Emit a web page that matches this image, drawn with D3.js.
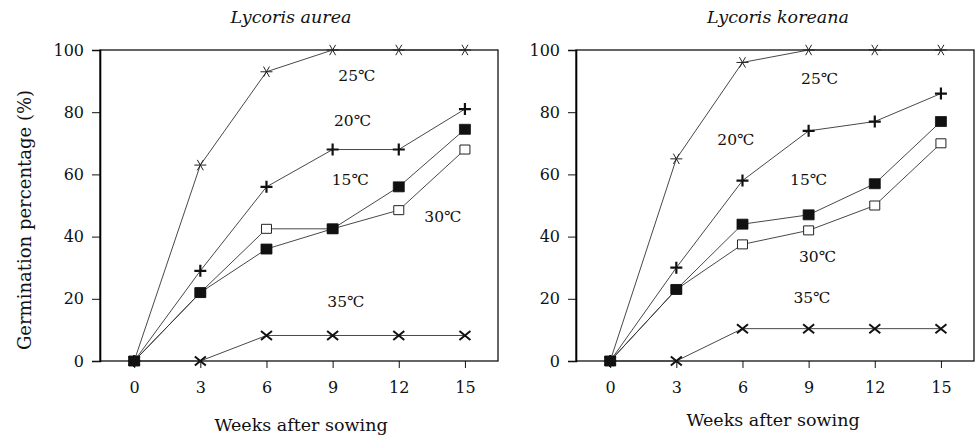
<!DOCTYPE html>
<html>
<head>
<meta charset="utf-8">
<script src="https://cdn.jsdelivr.net/npm/d3@7"></script>
<style>
  body { margin: 0; background: #fff; }
  svg { display: block; }
  text { font-family: "DejaVu Serif", "Liberation Serif", serif; fill: #111; }
</style>
</head>
<body>
<svg id="chart" width="976" height="437"></svg>
<script>
// weeks after sowing and axis ticks
const weeks = [0, 3, 6, 9, 12, 15];
const yTicks = [0, 20, 40, 60, 80, 100];
const tempLabels = ["25℃", "20℃", "15℃", "30℃", "35℃"];
const markerTypes = ["asterisk", "plus", "filledSquare", "openSquare", "times"];
// markers drawn in this order so the filled squares end up on top
const drawOrder = [4, 3, 0, 1, 2];

// Lycoris aurea, germination %
const aurea25 = [0, 63, 93, 100, 100, 100];
const aurea20 = [0, 29, 56, 68, 68, 81];
const aurea15 = [0, 22, 36, 42.5, 56, 74.5];
const aurea30 = [0, 22, 42.5, 42.5, 48.5, 68];
const aurea35 = [0, 0, 8.2, 8.2, 8.2, 8.2];
// where the temperature notes sit, in week / percent units
const aureaNoteWeek = [10.1, 9.9, 9.8, 14.0, 9.6];
const aureaNotePct = [91.6, 77.2, 58.2, 46.3, 19.0];

// Lycoris koreana, germination %
const koreana25 = [0, 65, 96, 100, 100, 100];
const koreana20 = [0, 30, 58, 74, 77, 86];
const koreana15 = [0, 23, 44, 47, 57, 77];
const koreana30 = [0, 23, 37.5, 42, 50, 70];
const koreana35 = [0, 0, 10.4, 10.4, 10.4, 10.4];
const koreanaNoteWeek = [9.5, 5.7, 9.0, 9.4, 9.15];
const koreanaNotePct = [90.7, 71.1, 58.2, 33.4, 20.3];

const svg = d3.select("#chart");

function markerPath(type) {
  const p = d3.path();
  if (type === "asterisk") {
    const r = 6, a = Math.PI / 3;
    p.moveTo(-r, 0); p.lineTo(r, 0);
    p.moveTo(-r * Math.cos(a), -r * Math.sin(a)); p.lineTo(r * Math.cos(a), r * Math.sin(a));
    p.moveTo(-r * Math.cos(a), r * Math.sin(a)); p.lineTo(r * Math.cos(a), -r * Math.sin(a));
  } else if (type === "plus") {
    p.moveTo(-6, 0); p.lineTo(6, 0); p.moveTo(0, -6); p.lineTo(0, 6);
  } else if (type === "times") {
    p.moveTo(-5.5, -4.5); p.lineTo(5.5, 4.5); p.moveTo(-5.5, 4.5); p.lineTo(5.5, -4.5);
  } else if (type === "filledSquare") {
    p.rect(-5.5, -5, 11, 10);
  } else {
    p.rect(-5, -4.5, 10, 9);
  }
  return p.toString();
}

function markerStyle(sel, type) {
  if (type === "filledSquare") sel.attr("fill", "#111").attr("stroke", "#111").attr("stroke-width", 0.8);
  else if (type === "openSquare") sel.attr("fill", "#fff").attr("stroke", "#222").attr("stroke-width", 1);
  else if (type === "plus") sel.attr("fill", "none").attr("stroke", "#111").attr("stroke-width", 2.2);
  else if (type === "times") sel.attr("fill", "none").attr("stroke", "#111").attr("stroke-width", 2);
  else sel.attr("fill", "none").attr("stroke", "#222").attr("stroke-width", 1);
}

function drawPanel(cfg) {
  const x = d3.scaleLinear().domain([-1.55, 16.5]).range([cfg.left, cfg.right]);
  const y = d3.scaleLinear().domain([0, 100]).range([361, 50]);
  const g = svg.append("g");

  // frame
  g.append("rect")
    .attr("x", cfg.left).attr("y", y(100))
    .attr("width", cfg.right - cfg.left).attr("height", y(0) - y(100))
    .attr("fill", "none").attr("stroke", "#111").attr("stroke-width", 1.3);

  // y axis
  const yAxis = g.append("g")
    .attr("transform", `translate(${cfg.left},0)`)
    .call(d3.axisLeft(y).tickValues(yTicks).tickSize(8).tickPadding(8));
  yAxis.select(".domain").attr("stroke-width", 1.6);

  // x axis
  const xAxis = g.append("g")
    .attr("transform", `translate(0,${y(0)})`)
    .call(d3.axisBottom(x).tickValues(weeks).tickSize(7).tickPadding(14));
  xAxis.select(".domain").remove();

  g.selectAll(".tick text")
    .style("font-family", '"DejaVu Serif", serif')
    .style("font-size", "16px")
    .attr("fill", "#111");
  g.selectAll(".tick line").attr("stroke", "#111");

  // series lines
  const line = d3.line().x((d, i) => x(weeks[i])).y(d => y(d));
  cfg.series.forEach(vals => {
    g.append("path")
      .datum(vals)
      .attr("d", line)
      .attr("fill", "none")
      .attr("stroke", "#333")
      .attr("stroke-width", 0.9);
  });

  // markers
  drawOrder.forEach(k => {
    const type = markerTypes[k];
    g.selectAll(null)
      .data(cfg.series[k])
      .enter()
      .append("path")
      .attr("transform", (d, i) => `translate(${x(weeks[i])},${y(d)})`)
      .attr("d", markerPath(type))
      .call(markerStyle, type);
  });

  // temperature notes
  tempLabels.forEach((t, k) => {
    g.append("text")
      .attr("x", x(cfg.noteWeek[k]))
      .attr("y", y(cfg.notePct[k]))
      .attr("text-anchor", "middle")
      .attr("dominant-baseline", "central")
      .style("font-size", "15.5px")
      .text(t);
  });

  // title
  g.append("text")
    .attr("x", cfg.titleX).attr("y", 23)
    .attr("text-anchor", "middle")
    .style("font-style", "italic")
    .style("font-size", "17.5px")
    .text(cfg.title);

  // x title
  g.append("text")
    .attr("x", cfg.xTitleX).attr("y", cfg.xTitleY)
    .attr("text-anchor", "middle")
    .style("font-size", "17.5px")
    .text("Weeks after sowing");
}

drawPanel({
  left: 100, right: 498,
  series: [aurea25, aurea20, aurea15, aurea30, aurea35],
  noteWeek: aureaNoteWeek, notePct: aureaNotePct,
  title: "Lycoris aurea", titleX: 291,
  xTitleX: 301, xTitleY: 431
});

drawPanel({
  left: 576, right: 974,
  series: [koreana25, koreana20, koreana15, koreana30, koreana35],
  noteWeek: koreanaNoteWeek, notePct: koreanaNotePct,
  title: "Lycoris koreana", titleX: 778,
  xTitleX: 773, xTitleY: 426
});

// shared y title
svg.append("text")
  .attr("transform", "translate(24,220) rotate(-90)")
  .attr("text-anchor", "middle")
  .attr("dominant-baseline", "central")
  .style("font-size", "18px")
  .text("Germination percentage (%)");
</script>
</body>
</html>
